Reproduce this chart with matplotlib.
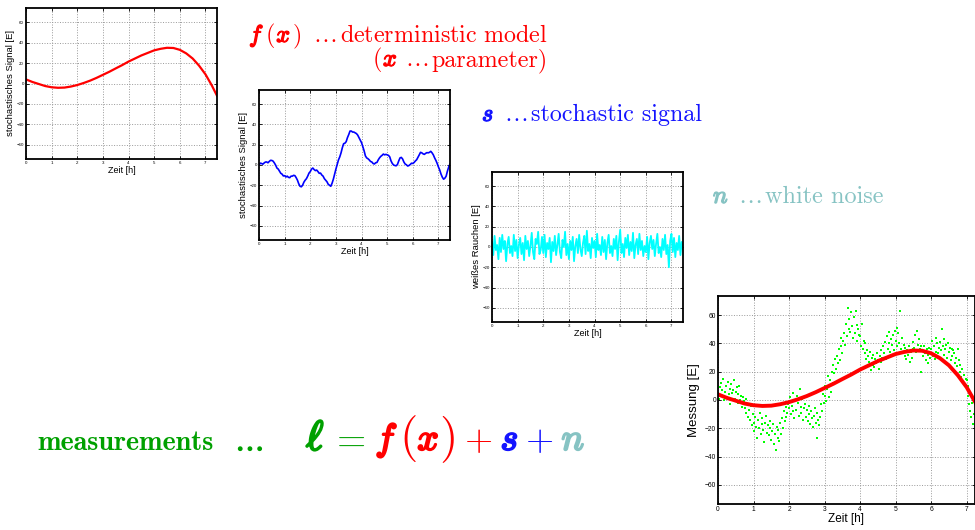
import numpy as np
import matplotlib
matplotlib.use("Agg")
import matplotlib.pyplot as plt
import matplotlib.patheffects as pe

W, H = 975, 530

# deterministic model f(x), read every 0.25 h
t_model = [0.0, 0.25, 0.5, 0.75, 1.0, 1.25, 1.5, 1.75, 2.0, 2.25, 2.5, 2.75, 3.0,
           3.25, 3.5, 3.75, 4.0, 4.25, 4.5, 4.75, 5.0, 5.25, 5.5, 5.75, 6.0,
           6.25, 6.5, 6.75, 7.0, 7.25, 7.45]
f_model = [4, 1.5, -0.5, -2.5, -3.7, -4.2, -4.0, -3.0, -1.5, 0.5, 2.8, 5.5, 8.5,
           11.5, 14.8, 18, 21.5, 24.5, 27.5, 30, 32.5, 34, 35, 34.8, 33,
           29.5, 24.5, 17.5, 9, -2, -12]

# stochastic signal s, every 0.05 h
t_signal = np.arange(150) * 0.05
s_signal = [0, 1.8, 1.5, 0.8, 2, 2.9, 3, 2.2, 3.5, 4.6,
            4.5, 3.8, 2, -0.2, -3, -4, -6, -8.2, -9, -10.8,
            -10.5, -11.8, -11, -12.2, -12.5, -11, -11, -10.2, -10.5, -12.5,
            -15, -18.5, -21, -21.5, -20, -17, -15, -13.5, -11, -8,
            -6.5, -4, -3, -4.5, -5.5, -5, -6.5, -8.2, -8, -9.9,
            -11, -13.5, -15, -16.5, -19, -20, -21, -18, -14, -9,
            -4, 0.5, 5, 8, 12, 17, 21, 21.5, 23, 27,
            30, 33.5, 33.5, 32.5, 32.5, 31.8, 31, 29.5, 27, 24.5,
            22, 18, 14, 9, 7, 6.2, 5, 3.5, 3, 1.5,
            1, 2.2, 2.5, 5, 7, 8.5, 9.5, 10.8, 10, 10.5,
            10, 9.5, 8, 4, 1.5, 0, -0.5, -0.8, 0.5, 4,
            7, 7.5, 6, 3, 1, 0.2, -1, -0.5, 0.5, 1.8,
            1.5, 2.5, 4, 5.2, 7.5, 10, 12.5, 12, 11, 10.5,
            11.5, 12.2, 12, 12.5, 13.5, 12, 10, 7, 4.5, 1.5,
            -2, -5, -9, -12, -14, -13, -11, -6, -2, 1]

# white noise n, every 0.05 h
t_noise = np.arange(150) * 0.05
n_noise = [5, -8, 11, -3, 2, -12, 9, -5, 12, -2, 6, -14, 3, 10, -6, 1, -9, 12, -4, 7,
           -11, 2, 9, -7, 4, -13, 11, -2, 6, -9, 1, 14, -5, -12, 8, 3, 15, -7, -3, 10,
           -6, 12, -10, 4, -2, 9, -15, 5, -4, 11, -8, 2, 13, -5, -11, 7, 0, 15, -8, 3,
           -12, 6, -3, 10, -14, 1, 8, -6, 12, -2, -9, 4, 11, -7, 16, -4, 3, -11, 9, -1,
           6, -10, 13, -3, 2, -8, 10, -5, 7, -12, 4, 12, -6, 1, -9, 8, -2, 11, -13, 5,
           17, -6, 3, -10, 9, -1, 12, -8, 5, -4, 14, -11, 2, 8, -7, 13, -3, 6, -9, 1,
           -5, 10, -12, 4, 11, -2, 7, -9, 3, 13, -6, 0, -10, 8, -3, 12, -7, 2, -20, 6,
           13, -5, 9, -10, 4, -3, 11, -8, 5, -2]

# measurements l, every 0.025 h
t_meas = np.arange(289) * 0.025
l_meas = [5, 1, 9, 12, 3, 7, 15, 0, 6, 10, 2, 13, 4, 8, -3, 11, 5, 7, 14, 1,
          6, 9, -2, 4, 10, 0, 3, -5, 2, -1, -6, 1, -9, -3, -12, -7, -14, -4, -18, -10,
          -16, -22, -12, -19, -27, -14, -20, -9, -24, -17, -13, -21, -30, -16, -11, -23, -18, -25, -15, -20,
          -28, -22, -17, -31, -24, -35, -19, -27, -21, -29, -16, -24, -13, -20, -8, -15, -5, -12, -9, -3,
          -6, 2, -10, -4, 5, -8, -13, 0, -7, 3, -2, -11, 8, -5, -9, 1, -14, -6, -3, -12,
          -7, -15, -4, -10, -17, -8, -13, -19, -11, -6, -16, -27, -9, -14, -18, -12, -3, -8, 4, -2,
          3, 10, -1, 8, 17, 2, 14, 6, 20, 12, 25, 19, 29, 22, 31, 26, 36, 28, 38, 44,
          33, 42, 47, 39, 54, 45, 65, 50, 57, 48, 62, 52, 44, 59, 47, 63, 53, 42, 50, 46,
          45, 38, 54, 36, 42, 33, 40, 29, 35, 31, 27, 34, 21, 30, 25, 32, 23, 29, 26, 33,
          28, 22, 31, 27, 35, 30, 38, 33, 41, 29, 45, 36, 40, 48, 34, 43, 39, 46, 35, 49,
          42, 51, 38, 47, 40, 63, 36, 44, 33, 39, 31, 37, 29, 35, 32, 38, 27, 34, 30, 36,
          41, 37, 46, 34, 49, 39, 43, 36, 38, 20, 35, 31, 38, 33, 28, 36, 32, 26, 37, 30,
          36, 42, 31, 38, 29, 44, 34, 40, 33, 37, 41, 35, 50, 38, 32, 43, 36, 39, 30, 40,
          34, 37, 28, 36, 31, 35, 33, 26, 30, 24, 36, 28, 20, 25, 16, 22, 13, 18, 10, 15,
          14, 3, 10, -3, -8, -12, -2, -17, -10]

x_ticks = [0, 1, 2, 3, 4, 5, 6, 7]
y_ticks = [-60, -40, -20, 0, 20, 40, 60]

RED = "#ff0000"
BLUE = "#1414ff"
TEAL = "#86c3c3"
GREEN = "#00a000"

plt.rcParams["mathtext.fontset"] = "cm"
plt.rcParams["font.family"] = "Liberation Sans"

fig = plt.figure(figsize=(W / 100, H / 100), dpi=100)
renderer = fig.canvas.get_renderer()


def make_axes(left, top, right, bottom, xmax, ymax, tick_fs, ylabel, label_fs, xlabel_fs,
              ylabelpad=1, xlabelpad=1):
    ax = fig.add_axes([left / W, 1 - bottom / H, (right - left) / W, (bottom - top) / H])
    ax.set_xlim(0, xmax)
    ax.set_ylim(-ymax, ymax)
    ax.set_xticks(x_ticks)
    ax.set_yticks(y_ticks)
    ax.grid(True, color="0.6", linestyle=":", linewidth=0.7)
    ax.tick_params(direction="in", top=True, right=True, length=2, width=0.6,
                   labelsize=tick_fs, pad=1.5, colors="black")
    for sp in ax.spines.values():
        sp.set_linewidth(1.3)
    ax.set_xlabel("Zeit [h]", fontsize=xlabel_fs, labelpad=xlabelpad)
    ax.set_ylabel(ylabel, fontsize=label_fs, labelpad=ylabelpad)
    return ax


ax1 = make_axes(26, 8, 217, 159, 7.45, 74, 3.2, "stochastisches Signal [E]", 6.8, 6.5)
ax1.plot(t_model, f_model, color=RED, lw=1.6)

ax2 = make_axes(259, 90, 450, 240, 7.45, 74, 3.2, "stochastisches Signal [E]", 6.8, 6.5)
ax2.plot(t_signal, s_signal, color="#0000ff", lw=1.2)

ax3 = make_axes(492, 172, 683, 322, 7.45, 74, 3.2, "weißes Rauchen [E]", 6.8, 6.5)
ax3.plot(t_noise, n_noise, color="#00ffff", lw=1.3)

ax4 = make_axes(718, 296, 974.5, 504, 7.22, 73.5, 4.8, "Messung [E]", 9.5, 8.5,
                ylabelpad=3, xlabelpad=0)
ax4.plot(t_meas, l_meas, "s", color="#00ff00", ms=1.8, mew=0)
ax4.plot(t_model, f_model, color=RED, lw=2.8)


def chain(x, y, pieces):
    # pieces: (text, size, color, bold, family, gap after); placed left to right
    for s, size, color, bold, family, gap in pieces:
        t = fig.text(x / W, 1 - y / H, s, fontsize=size, color=color, ha="left",
                     va="baseline", family=family)
        if bold:
            t.set_path_effects([pe.withStroke(linewidth=size * 0.055, foreground=color)])
        x += t.get_window_extent(renderer=renderer).width + gap


RM = "cmr10"
chain(249, 42, [
    (r"$f$", 17.3, RED, True, RM, 1),
    (r"$($", 17.3, RED, False, RM, 1),
    (r"$x$", 17.3, RED, True, RM, 1),
    (r"$)$", 17.3, RED, False, RM, 12),
    (r"$\ldots$", 17.3, RED, False, RM, 4),
    (r"$\mathrm{deterministic\ model}$", 17.3, RED, False, RM, 0),
])
chain(372, 66, [
    (r"$($", 17.3, RED, False, RM, 1),
    (r"$x$", 17.3, RED, True, RM, 7),
    (r"$\ldots$", 17.3, RED, False, RM, 3),
    ("parameter)", 17.3, RED, False, RM, 0),
])
chain(482, 121, [
    (r"$s$", 17.3, BLUE, True, RM, 10),
    (r"$\ldots$", 17.3, BLUE, False, RM, 4),
    ("stochastic signal", 17.3, BLUE, False, RM, 0),
])
chain(713, 203, [
    (r"$n$", 17.5, TEAL, True, RM, 9),
    (r"$\ldots$", 17.5, TEAL, False, RM, 4),
    ("white noise", 17.5, TEAL, False, RM, 0),
])
chain(37, 450, [
    ("measurements", 20.3, GREEN, False, "cmb10", 22),
    (r"$\ldots$", 21, GREEN, True, RM, 0),
])
chain(306, 450, [
    (r"$\ell$", 30, GREEN, True, RM, 6),
    (r"$=$", 27, GREEN, False, RM, 9),
    (r"$f$", 27, RED, True, RM, 1),
    ("(", 34, RED, False, RM, 0),
    (r"$x$", 27, RED, True, RM, 0),
    (")", 34, RED, False, RM, 7),
    (r"$+$", 26, RED, False, RM, 8),
    (r"$s$", 27, BLUE, True, RM, 7),
    (r"$+$", 26, BLUE, False, RM, 8),
    (r"$n$", 27, TEAL, True, RM, 0),
])

fig.savefig("out.png", dpi=100)
